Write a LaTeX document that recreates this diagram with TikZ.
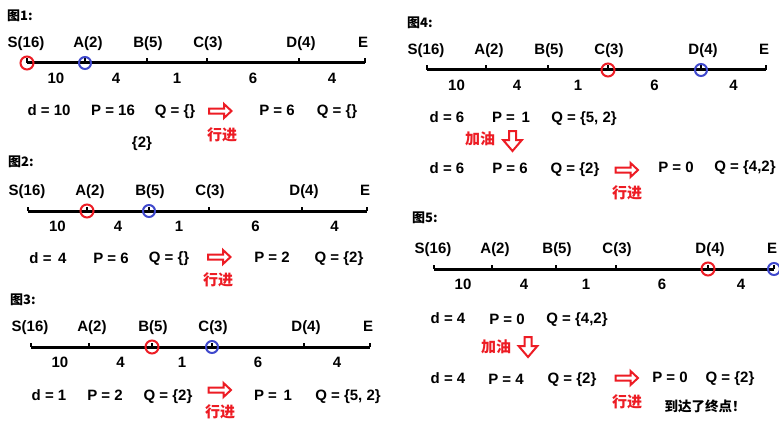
\documentclass[tikz,border=0pt]{standalone}
\usepackage{fontspec}
\setmainfont{Liberation Sans}
\newfontfamily\cjk{Noto Sans CJK SC}
\usetikzlibrary{calc}
\definecolor{pred}{RGB}{237,28,36}
\definecolor{pblue}{RGB}{63,72,204}
\tikzset{
 lbl/.style={font=\bfseries\fontsize{15}{15}\selectfont, inner sep=0pt, text height=10.7pt, text depth=0pt},
 cjklbl/.style={font=\cjk\bfseries\fontsize{13.5}{13.5}\selectfont, inner sep=0pt, text height=11.5pt, text depth=1.5pt},
 redlbl/.style={font=\cjk\bfseries\fontsize{15}{15}\selectfont, inner sep=0pt, text height=12.5pt, text depth=1.8pt, text=pred},
 titlelbl/.style={font=\cjk\bfseries\fontsize{13}{13}\selectfont, inner sep=0pt, text height=11pt, text depth=1.5pt, anchor=west},
 axis/.style={line width=3pt},
 tickmark/.style={line width=2pt},
 redring/.style={circle, draw=pred, line width=2pt, minimum size=13pt, inner sep=0pt},
 bluering/.style={circle, draw=pblue, line width=2pt, minimum size=12pt, inner sep=0pt},
 hollowarrow/.style={draw=pred, line width=2pt, fill=white, line join=miter},
}
\newcommand\rightarr[2]{%
 \draw[hollowarrow, shift={(#1,#2)}] (-11.5,-2.5) -- (3.5,-2.5) -- (3.5,-7) -- (11,0) -- (3.5,7) -- (3.5,2.5) -- (-11.5,2.5) -- cycle;}
\newcommand\downarr[2]{%
 \draw[hollowarrow, shift={(#1,#2)}] (-3.5,-10) -- (3.5,-10) -- (3.5,-1) -- (9.4,-1) -- (0,10) -- (-9.4,-1) -- (-3.5,-1) -- cycle;}
\newcommand\drawpanel[8]{%
 \coordinate (#1s) at (#3,#2);
 \coordinate (#1a) at (#4,#2);
 \coordinate (#1b) at (#5,#2);
 \coordinate (#1c) at (#6,#2);
 \coordinate (#1d) at (#7,#2);
 \coordinate (#1e) at (#8,#2);
 \draw[axis] (#1s) -- (#1e);
 \foreach \q in {s,a,b,c,d,e}{\draw[tickmark] (#1\q) -- ++(0,-4.5);}
 \node[lbl] (#1ls) at ([shift={(-1,-21)}]#1s) {S(16)};
 \node[lbl] (#1la) at ([shift={(3,-21)}]#1a) {A(2)};
 \node[lbl] (#1lb) at ([shift={(1,-21)}]#1b) {B(5)};
 \node[lbl] (#1lc) at ([shift={(1,-21)}]#1c) {C(3)};
 \node[lbl] (#1ld) at ([shift={(2,-21)}]#1d) {D(4)};
 \node[lbl] (#1le) at ([shift={(-2,-21)}]#1e) {E};
 \node[lbl] (#1ds) at ($(#1s)!0.5!(#1a)+(0,15)$) {10};
 \node[lbl] (#1da) at ($(#1a)!0.5!(#1b)+(0,15)$) {4};
 \node[lbl] (#1db) at ($(#1b)!0.5!(#1c)+(0,15)$) {1};
 \node[lbl] (#1dc) at ($(#1c)!0.5!(#1d)+(0,15)$) {6};
 \node[lbl] (#1dd) at ($(#1d)!0.5!(#1e)+(0,15)$) {4};
}
\begin{document}
\begin{tikzpicture}[x=1pt,y=-1pt]
\fill[white] (0,0) rectangle (779,428);
\useasboundingbox (0,0) rectangle (779,428);

% ---------- Figure 1
\node[titlelbl] (t1) at (7,16) {图1:};
\drawpanel{p1}{63}{27}{85}{147}{207}{299}{365}
\node[redring] (p1r) at (p1s) {};
\node[bluering] (p1u) at (p1a) {};
\node[lbl] (p1x1) at (49,110) {d = 10};
\node[lbl] (p1x2) at (113,110) {P = 16};
\node[lbl] (p1x3) at (175,110) {Q = \{\}};
\rightarr{220.5}{111}
\node[lbl] (p1x4) at (277,110) {P = 6};
\node[lbl] (p1x5) at (337,110) {Q = \{\}};
\node[redlbl] (p1g) at (222,135) {行进};
\node[lbl] (p1x6) at (142,142) {\{2\}};

% ---------- Figure 2
\node[titlelbl] (t2) at (8,162) {图2:};
\drawpanel{p2}{211}{28}{87}{149}{209}{302}{367}
\node[redring] (p2r) at (p2a) {};
\node[bluering] (p2u) at (p2b) {};
\node[lbl] (p2x1) at (48,258) {d = \,4};
\node[lbl] (p2x2) at (111,258) {P = 6};
\node[lbl] (p2x3) at (169,257) {Q = \{\}};
\rightarr{219.5}{257}
\node[lbl] (p2x4) at (272,257) {P = 2};
\node[lbl] (p2x5) at (339,257) {Q = \{2\}};
\node[redlbl] (p2g) at (218,280) {行进};

% ---------- Figure 3
\node[titlelbl] (t3) at (10,300) {图3:};
\drawpanel{p3}{347}{31}{89}{152}{212}{304}{370}
\node[redring] (p3r) at (p3b) {};
\node[bluering] (p3u) at (p3c) {};
\node[lbl] (p3x1) at (49,395) {d = 1};
\node[lbl] (p3x2) at (105,395) {P = 2};
\node[lbl] (p3x3) at (168,395) {Q = \{2\}};
\rightarr{220}{390}
\node[lbl] (p3x4) at (273,395) {P = \,1};
\node[lbl] (p3x5) at (348,395) {Q = \{5, 2\}};
\node[redlbl] (p3g) at (220,412) {行进};

% ---------- Figure 4
\node[titlelbl] (t4) at (407,23) {图4:};
\drawpanel{p4}{70}{427}{486}{548}{608}{701}{766}
\node[redring] (p4r) at (p4c) {};
\node[bluering] (p4u) at (p4d) {};
\node[lbl] (p4x1) at (447,117) {d = 6};
\node[lbl] (p4x2) at (511,117) {P = \,1};
\node[lbl] (p4x3) at (584,117) {Q = \{5, 2\}};
\node[redlbl] (p4o) at (480,139) {加油};
\downarr{512.5}{141}
\node[lbl] (p4x4) at (447,168) {d = 6};
\node[lbl] (p4x5) at (510,168) {P = 6};
\node[lbl] (p4x6) at (575,168) {Q = \{2\}};
\rightarr{627}{170}
\node[lbl] (p4x7) at (676,167) {P = 0};
\node[lbl] (p4x8) at (745,166) {Q = \{4,2\}};
\node[redlbl] (p4g) at (627,193) {行进};

% ---------- Figure 5
\node[titlelbl] (t5) at (412,218) {图5:};
\drawpanel{p5}{269}{434}{492}{556}{616}{708}{774}
\node[redring] (p5r) at (p5d) {};
\node[bluering] (p5u) at (p5e) {};
\node[lbl] (p5x1) at (448,318) {d = 4};
\node[lbl] (p5x2) at (507,319) {P = 0};
\node[lbl] (p5x3) at (577,318) {Q = \{4,2\}};
\node[redlbl] (p5o) at (496,347) {加油};
\downarr{528}{347}
\node[lbl] (p5x4) at (448,378) {d = 4};
\node[lbl] (p5x5) at (506,379) {P = 4};
\node[lbl] (p5x6) at (572,378) {Q = \{2\}};
\rightarr{627}{378}
\node[lbl] (p5x7) at (670,377) {P = 0};
\node[lbl] (p5x8) at (730,377) {Q = \{2\}};
\node[redlbl] (p5g) at (627,402) {行进};
\node[cjklbl] (p5end) at (705,406) {到达了终点！};
\end{tikzpicture}
\end{document}
